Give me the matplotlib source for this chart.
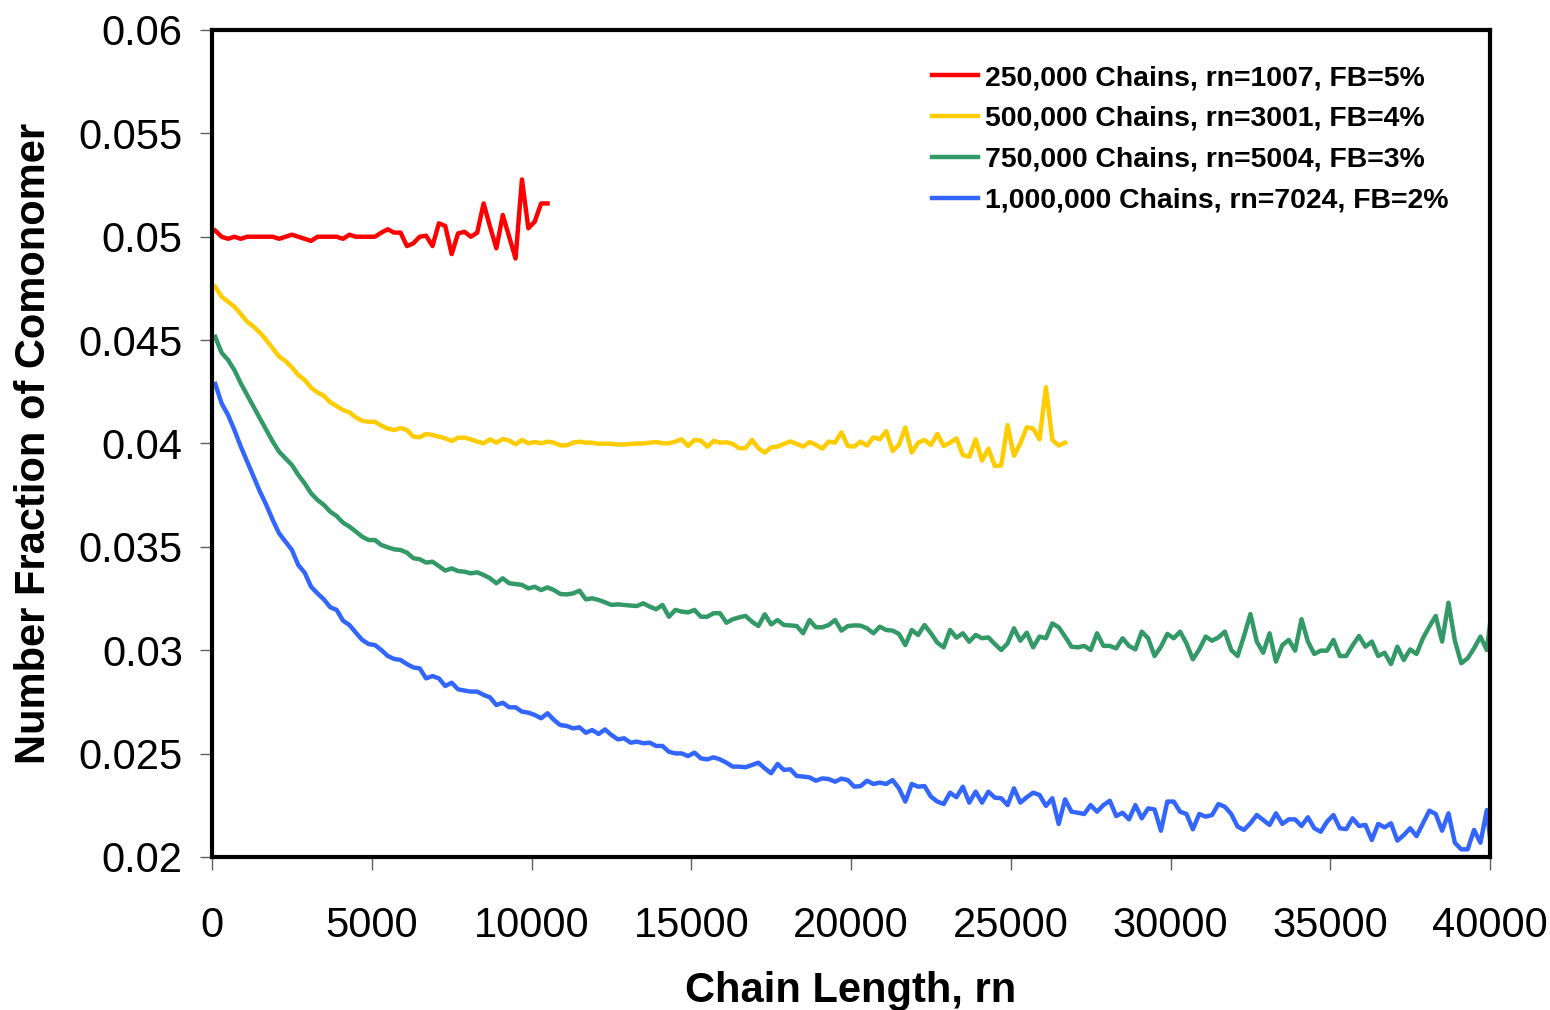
import numpy as np
import matplotlib
matplotlib.use("Agg")
import matplotlib.pyplot as plt
from matplotlib.ticker import FuncFormatter

plt.rcParams['font.family'] = ['Liberation Sans', 'DejaVu Sans']

# chain length bins are 200 wide, first bin centred at 100
step = 200
x_start = 100

labels = ["250,000 Chains, rn=1007, FB=5%",
          "500,000 Chains, rn=3001, FB=4%",
          "750,000 Chains, rn=5004, FB=3%",
          "1,000,000 Chains, rn=7024, FB=2%"]
colors = ["#FF0000", "#FFCC00", "#339966", "#3366FF"]

red = [0.0503, 0.0500, 0.0499, 0.0500, 0.0499, 0.0500, 0.0500, 0.0500, 0.0500, 0.0500,
       0.0499, 0.0500, 0.0501, 0.0500, 0.0499, 0.0498, 0.0500, 0.0500, 0.0500, 0.0500,
       0.0499, 0.0501, 0.0500, 0.0500, 0.0500, 0.0500, 0.0502, 0.05036, 0.0502, 0.0502,
       0.04955, 0.04968, 0.0500, 0.05005, 0.04955, 0.05065, 0.05052, 0.04916, 0.05016, 0.05024,
       0.0500, 0.0502, 0.05161, 0.05049, 0.04944, 0.05105, 0.0500, 0.04895, 0.05277, 0.05041,
       0.05073, 0.05161, 0.05161]

yellow = [0.04758, 0.04710, 0.04686, 0.04662, 0.04626, 0.04589, 0.04565, 0.04536, 0.04500, 0.04460,
          0.04420, 0.04399, 0.04368, 0.04331, 0.04307, 0.04270, 0.04247, 0.04231, 0.04199, 0.04181,
          0.04162, 0.04151, 0.04126, 0.04110, 0.04105, 0.04105, 0.04086, 0.04072, 0.04065, 0.04075,
          0.04065, 0.04033, 0.04030, 0.04046, 0.04041, 0.04033, 0.04025, 0.04012, 0.04028, 0.04028,
          0.04020, 0.04009, 0.04001, 0.04020, 0.04004, 0.04022, 0.04014, 0.03996, 0.04017, 0.04001,
          0.04007, 0.04001, 0.04009, 0.04004, 0.03991, 0.03991, 0.04004, 0.04009, 0.04004, 0.04004,
          0.03998, 0.04000, 0.03998, 0.03995, 0.03995, 0.03998, 0.04000, 0.04000,
          0.04004, 0.04007, 0.04001, 0.04001, 0.04009, 0.04020, 0.03988, 0.04017, 0.04014, 0.03985,
          0.04012, 0.04004, 0.04006, 0.03998, 0.03977, 0.03978, 0.04017, 0.03977, 0.03956, 0.03981,
          0.03985, 0.03998, 0.04010, 0.03998, 0.03985, 0.04007, 0.03994, 0.03975, 0.04009, 0.04004,
          0.04054, 0.03988, 0.03985, 0.04009, 0.03990, 0.04030, 0.04020, 0.04060, 0.03964, 0.03993,
          0.04078, 0.03956, 0.04004, 0.04017, 0.03993, 0.04046, 0.03988, 0.04004, 0.04025, 0.03944,
          0.03936, 0.04020, 0.03917, 0.03975, 0.03891, 0.03894, 0.04089, 0.03940, 0.04001, 0.04078,
          0.04072, 0.04020, 0.04272, 0.04017, 0.03990, 0.04004]

green = [0.04516, 0.04439, 0.04404, 0.04355, 0.04291, 0.04234, 0.04178, 0.04121, 0.04065, 0.04009,
         0.03960, 0.03928,
         0.03896, 0.03848, 0.03807, 0.03759, 0.03727, 0.03703, 0.03670, 0.03649, 0.03617, 0.03598,
         0.03574, 0.03549, 0.03533, 0.03533, 0.03509, 0.03498, 0.03488, 0.03485, 0.03472, 0.03445,
         0.03440, 0.03424, 0.03428, 0.03407, 0.03385, 0.03396, 0.03383, 0.03380, 0.03372, 0.03377,
         0.03364, 0.03348, 0.03324, 0.03348, 0.03324, 0.03320, 0.03316, 0.03299, 0.03307, 0.03291,
         0.03304, 0.03291, 0.03272, 0.03270, 0.03275, 0.03288, 0.03246, 0.03251, 0.03243, 0.03232,
         0.03219, 0.03222, 0.03219, 0.03216, 0.03214, 0.03227, 0.03211, 0.03198, 0.03219, 0.03162,
         0.03195, 0.03187, 0.03183, 0.03195, 0.03162,
         0.03162, 0.03179, 0.03179, 0.03133, 0.03150, 0.03159, 0.03166, 0.03138, 0.03117, 0.03174,
         0.03125, 0.03146, 0.03122, 0.03120, 0.03117, 0.03082, 0.03146, 0.03111, 0.03111, 0.03122,
         0.03146, 0.03095, 0.03117, 0.03120, 0.03119, 0.03106, 0.03082, 0.03114, 0.03098, 0.03095,
         0.03079, 0.03025, 0.03098, 0.03074, 0.03122, 0.03082, 0.03037, 0.03014, 0.03098, 0.03061,
         0.03082, 0.03041, 0.03074, 0.03058, 0.03062, 0.03030,
         0.03001, 0.03033, 0.03106, 0.03046, 0.03085, 0.03014, 0.03066, 0.03058, 0.03130, 0.03111,
         0.03066, 0.03017, 0.03014, 0.03021, 0.03001, 0.03082, 0.03021, 0.03021, 0.03009, 0.03058,
         0.03021, 0.03004, 0.03090, 0.03058, 0.02972, 0.03017, 0.03079, 0.03058, 0.03090, 0.03033,
         0.02956, 0.03004, 0.03066, 0.03046, 0.03062, 0.03090, 0.03001, 0.02972, 0.03069, 0.03175,
         0.03042, 0.02988, 0.03082, 0.02945, 0.03025, 0.03050, 0.02998, 0.03150, 0.03042, 0.02982,
         0.02998, 0.02998, 0.03050, 0.02972, 0.02972, 0.03024, 0.03069, 0.03017, 0.03042, 0.02972,
         0.02988, 0.02933, 0.03017, 0.02953, 0.03004, 0.02982, 0.03058, 0.03114, 0.03166, 0.03042,
         0.03230, 0.03046, 0.02937, 0.02961, 0.03009, 0.03066, 0.03001, 0.0325]

blue = [0.04288, 0.04194, 0.04138, 0.04065, 0.03985, 0.03912, 0.03840, 0.03767, 0.03702, 0.03630,
        0.03565, 0.03525, 0.03485, 0.03412, 0.03375, 0.03307, 0.03275, 0.03246, 0.03208, 0.03195,
        0.03143, 0.03122, 0.03085, 0.03050, 0.03030, 0.03025, 0.03001, 0.02972, 0.02958, 0.02953,
        0.02933, 0.02917, 0.02912, 0.02864, 0.02875, 0.02864, 0.02827, 0.02843, 0.02811, 0.02805,
        0.02800, 0.02800, 0.02784, 0.02772, 0.02735, 0.02746, 0.02724, 0.02724, 0.02703, 0.02698,
        0.02687, 0.02671, 0.02695, 0.02663, 0.02638, 0.02634, 0.02622, 0.02627, 0.02601, 0.02614,
        0.02595, 0.02617, 0.02590, 0.02569, 0.02574, 0.02553, 0.02558, 0.02550,
        0.02553, 0.02537, 0.02537, 0.02509, 0.02501, 0.02501, 0.02488, 0.02505, 0.02477, 0.02472,
        0.02482, 0.02472, 0.02456, 0.02437, 0.02437, 0.02434, 0.02445, 0.02456, 0.02429, 0.02405,
        0.02450, 0.02421, 0.02424, 0.02392, 0.02389, 0.02385, 0.02369, 0.02380, 0.02377, 0.02364,
        0.02379, 0.02372, 0.02340, 0.02343, 0.02369, 0.02353, 0.02360, 0.02353, 0.02372, 0.02332,
        0.02268, 0.02353, 0.02340, 0.02343, 0.02292, 0.02268, 0.02256, 0.02311, 0.02289, 0.02340,
        0.02263, 0.02316, 0.02263, 0.02316, 0.02287, 0.02284, 0.02251, 0.02332, 0.02263, 0.02289,
        0.02311, 0.02300, 0.02247, 0.02284, 0.02160, 0.02279, 0.02219, 0.02214, 0.02208, 0.02251,
        0.02219,
        0.02251, 0.02272, 0.02198, 0.02214, 0.02182, 0.02251, 0.02187, 0.02235, 0.02230, 0.02127,
        0.02268, 0.02268, 0.02219, 0.02208, 0.02134, 0.02208, 0.02195, 0.02203, 0.02256, 0.02243,
        0.02208, 0.02147, 0.02131, 0.02163, 0.02203, 0.02179, 0.02155, 0.02211, 0.02160, 0.02182,
        0.02182, 0.02150, 0.02192, 0.02139, 0.02122, 0.02171, 0.02203, 0.02139, 0.02135, 0.02187,
        0.02150, 0.02155, 0.02082, 0.02160, 0.02143, 0.02163, 0.02079, 0.02106, 0.02139, 0.02101,
        0.02163, 0.02224, 0.02208, 0.02127, 0.02211, 0.02069, 0.02037, 0.02037, 0.02131, 0.02069,
        0.02227, 0.0196]

yticks = [0.02, 0.025, 0.03, 0.035, 0.04, 0.045, 0.05, 0.055, 0.06]
xticks = [0, 5000, 10000, 15000, 20000, 25000, 30000, 35000, 40000]

fig = plt.figure(figsize=(15.5, 10.1), dpi=100)
ax = fig.add_axes([0.1368, 0.1515, 0.8245, 0.8188])

for ys, c, lab in zip([red, yellow, green, blue], colors, labels):
    xs = x_start + step * np.arange(len(ys))
    ax.plot(xs, ys, color=c, lw=3.2, label=lab, solid_joinstyle='round')

ax.set_xlim(0, 40000)
ax.set_ylim(0.02, 0.06)
ax.set_xticks(xticks)
ax.set_yticks(yticks)
ax.xaxis.set_major_formatter(FuncFormatter(lambda v, p: '%d' % v))
ax.yaxis.set_major_formatter(FuncFormatter(lambda v, p: '%g' % v))
ax.tick_params(axis='both', direction='out', length=9, width=1, color='#606060',
               labelsize=30)
ax.tick_params(axis='x', pad=26)
ax.tick_params(axis='y', pad=12)

for s in ax.spines.values():
    s.set_linewidth(3)
    s.set_color('black')

ax.set_xlabel("Chain Length, rn", fontsize=30, fontweight='bold', labelpad=18)
ax.set_ylabel("Number Fraction of Comonomer", fontsize=30, fontweight='bold', labelpad=18)

leg = ax.legend(loc='upper left', bbox_to_anchor=(0.5525, 0.9745), frameon=False,
                borderpad=0, handlelength=1.6, handletextpad=0.25, labelspacing=0.52,
                prop={'size': 20.4, 'weight': 'bold'})

fig.savefig("out.png", dpi=100)
